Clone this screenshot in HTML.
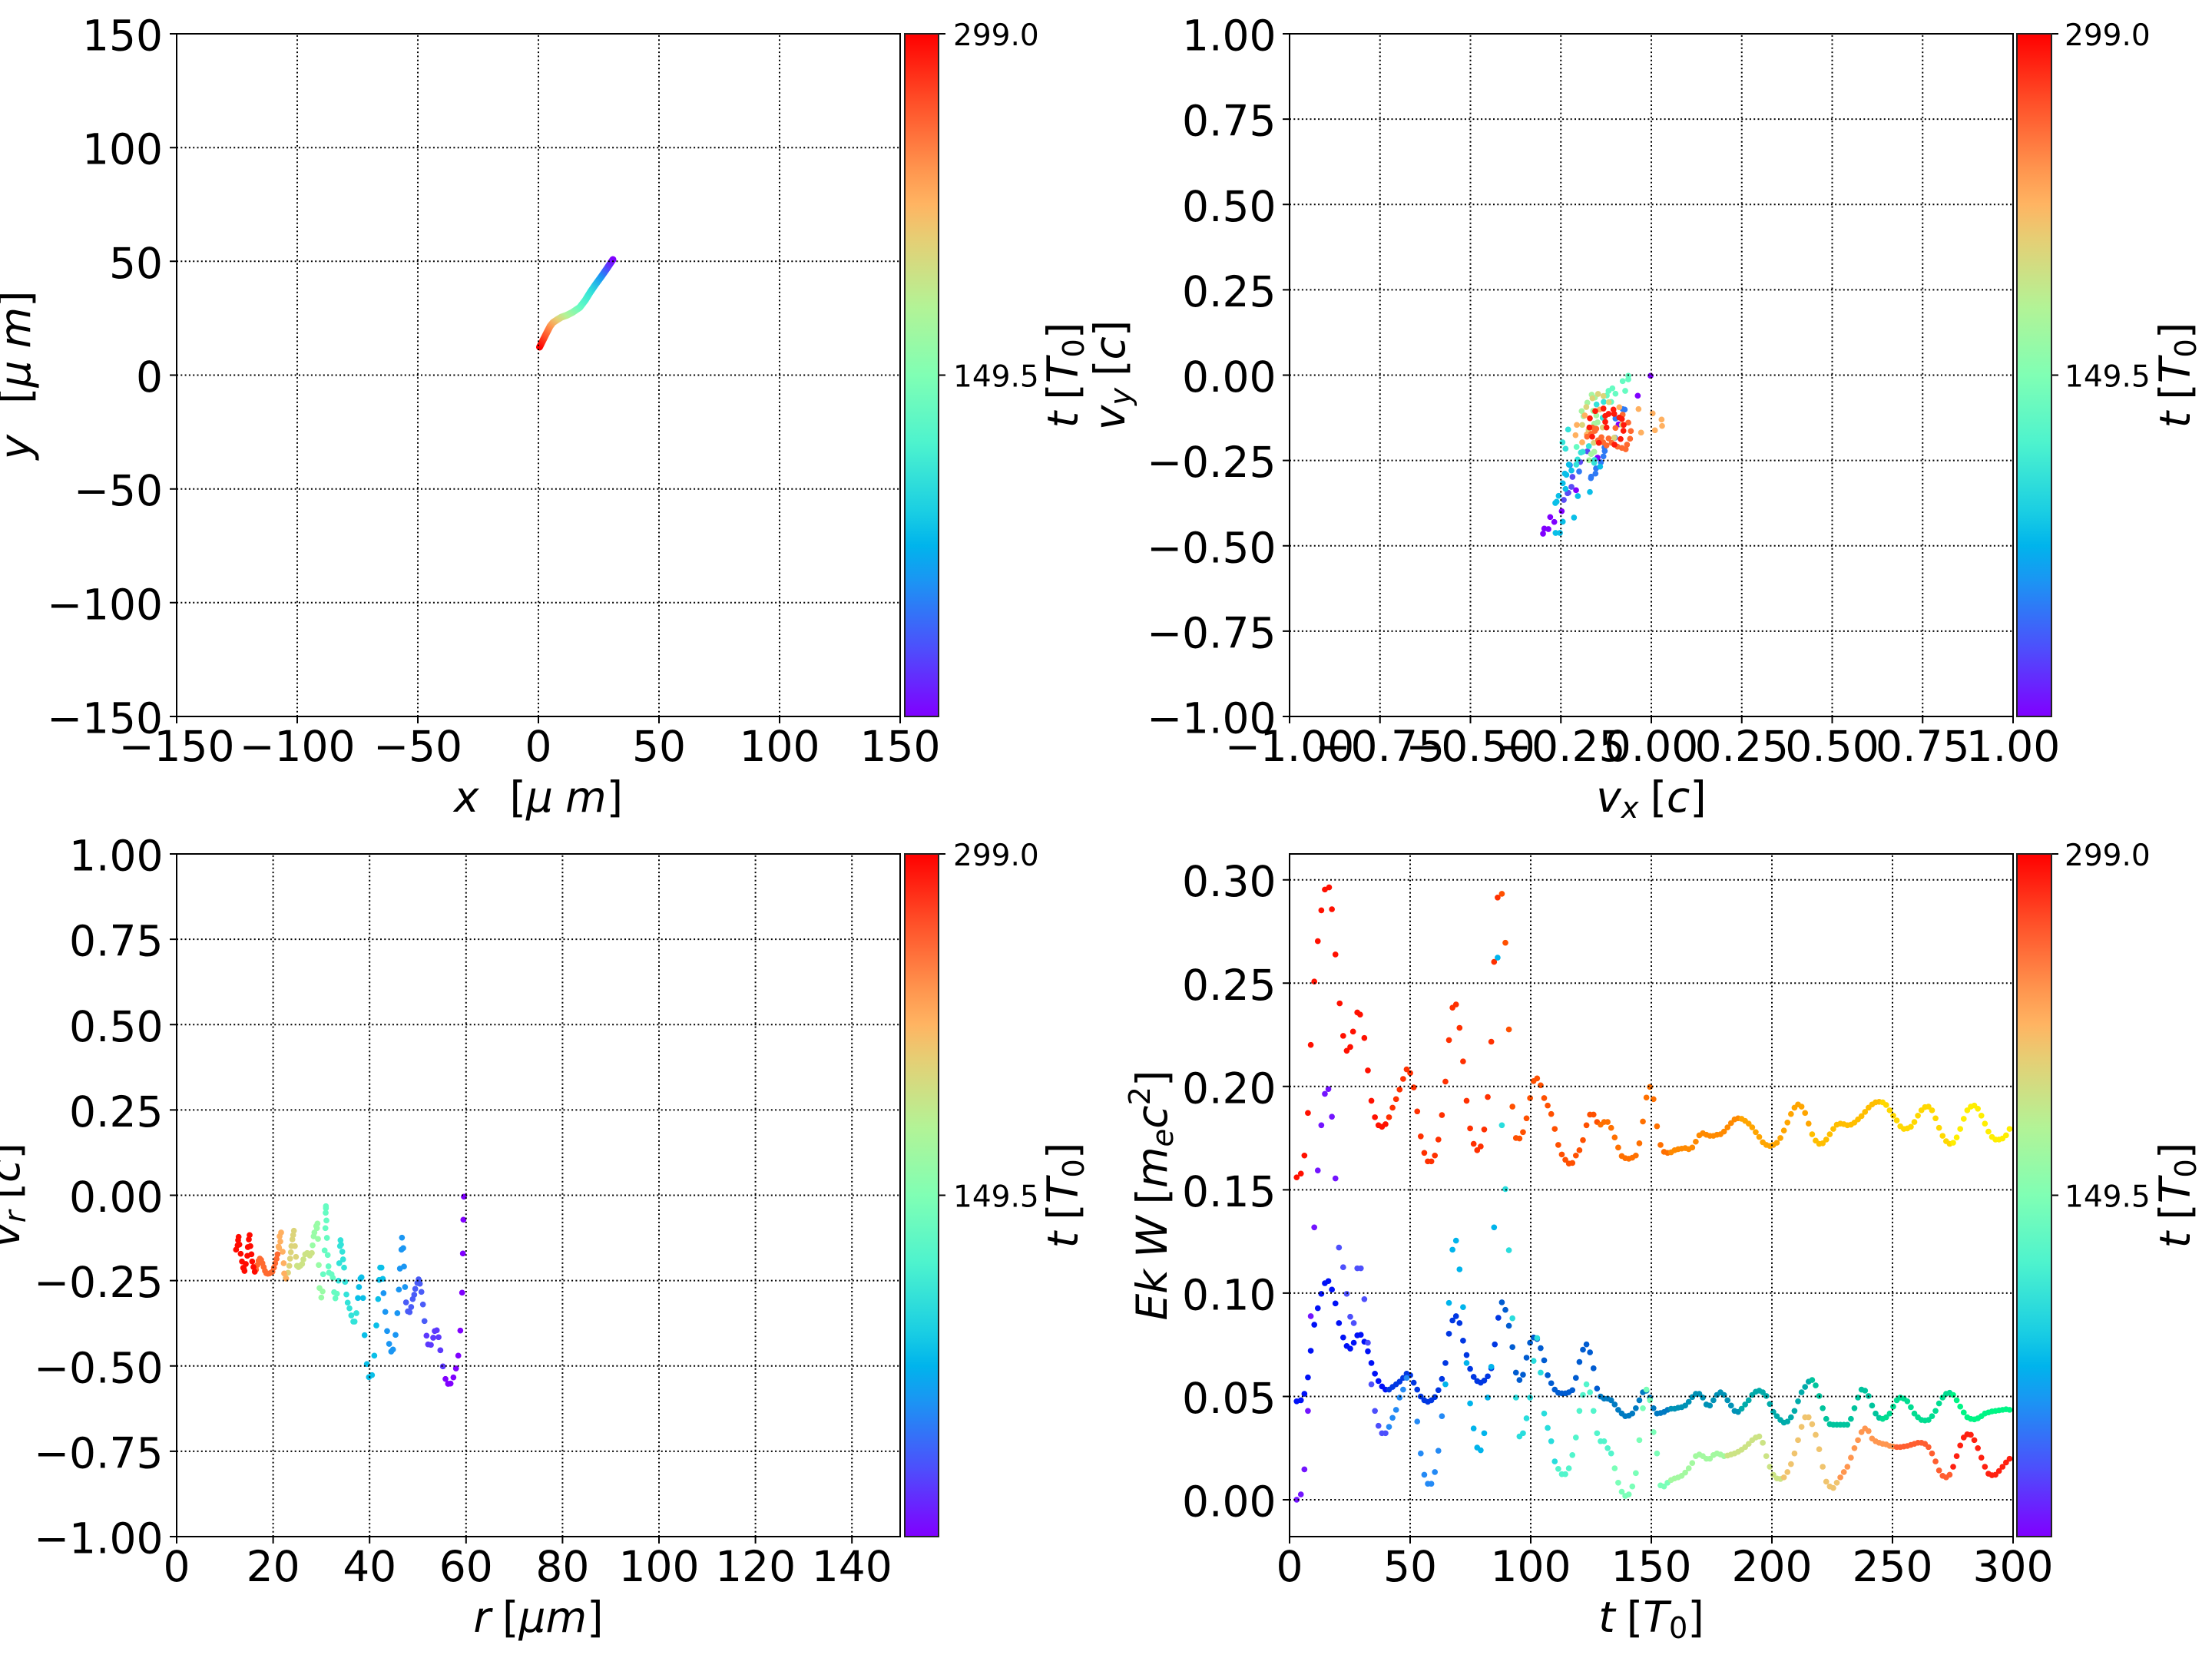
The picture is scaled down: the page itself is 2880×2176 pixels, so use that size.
<!DOCTYPE html>
<html>
<head>
<meta charset="utf-8">
<style>
html,body{margin:0;padding:0;background:#fff;overflow:hidden;}
svg{display:block;}
text{font-family:"DejaVu Sans","Liberation Sans",sans-serif;fill:#000;}
.t{font-size:55px;}
.c{font-size:39px;}
.i{font-style:italic;}
</style>
</head>
<body>
<svg width="2880" height="2176" viewBox="0 0 2880 2176" xmlns="http://www.w3.org/2000/svg">
<defs>
<linearGradient id="cb" x1="0" y1="1" x2="0" y2="0">
<stop offset="0" stop-color="#8000ff"/>
<stop offset="0.1" stop-color="#4d4ffc"/>
<stop offset="0.2" stop-color="#1a96f3"/>
<stop offset="0.25" stop-color="#00b4ec"/>
<stop offset="0.3" stop-color="#1acee3"/>
<stop offset="0.4" stop-color="#4df3ce"/>
<stop offset="0.5" stop-color="#80ffb4"/>
<stop offset="0.6" stop-color="#b3f396"/>
<stop offset="0.7" stop-color="#e6ce74"/>
<stop offset="0.75" stop-color="#ffb462"/>
<stop offset="0.8" stop-color="#ff964f"/>
<stop offset="0.9" stop-color="#ff4f28"/>
<stop offset="1" stop-color="#ff0000"/>
</linearGradient>
<linearGradient id="trj" gradientUnits="userSpaceOnUse" x1="702.5" y1="452" x2="798" y2="338">
<stop offset="0" stop-color="#ff0000"/>
<stop offset="0.1" stop-color="#ff4f28"/>
<stop offset="0.2" stop-color="#ff964f"/>
<stop offset="0.282" stop-color="#e6ce74"/>
<stop offset="0.363" stop-color="#b3f396"/>
<stop offset="0.492" stop-color="#66fcc2"/>
<stop offset="0.655" stop-color="#33e3d9"/>
<stop offset="0.815" stop-color="#1a96f3"/>
<stop offset="0.9" stop-color="#4d4ffc"/>
<stop offset="1" stop-color="#8000ff"/>
</linearGradient>
</defs>
<rect x="0" y="0" width="2880" height="2176" fill="#fff"/>

<!-- ===== TL data: trajectory ===== -->
<polyline points="702.5,452 708,441 712,433 716.3,424.7 720,420 725.4,416.4 731,413 737.4,410.8 745,407 754.8,400.4 762,391 768.6,380.3 775,371 782.4,360.9 790,350 798,338" fill="none" stroke="url(#trj)" stroke-width="9" stroke-linecap="round" stroke-linejoin="round"/>

<!-- ===== TR data ===== -->
<g transform="translate(1930 470) scale(0.33333)" fill="none" stroke-width="23" stroke-linecap="round">
<path stroke="#8000ff" d="M657 58h.1M607 136h.1M532 248h.1M450 378h.1M366 505h.1M310 587h.1M265 610h.1M281 629h.1M242 655h.1M258 657h.1M237 675h.1"/>
<path stroke="#5a4cf5" d="M382 395h.1M352 453h.1M348 492h.1M333 517h.1M318 543h.1M410 353h.1M336 515h.1"/>
<path stroke="#2f7af5" d="M478 352h.1M473 373h.1M463 396h.1M444 420h.1M442 440h.1M425 452h.1M424 458h.1M378 432h.1M342 407h.1M556 190h.1M548 188h.1M520 225h.1M518 300h.1M477 338h.1"/>
<path stroke="#0abfe8" d="M460 413h.1M420 512h.1M373 528h.1M358 612h.1M314 628h.1M303 672h.1M286 672h.1M298 527h.1M290 550h.1M285 555h.1M314 478h.1M325 500h.1M338 405h.1M322 440h.1M348 428h.1M328 445h.1"/>
<path stroke="#33e3d9" d="M367 405h.1M372 385h.1M385 358h.1M392 355h.1M437 398h.1M416 333h.1M313 318h.1M325 343h.1M446 170h.1M474 160h.1M470 222h.1M335 268h.1M438 387h.1"/>
<path stroke="#66fcc2" d="M368 336h.1M570 58h.1M570 72h.1M548 79h.1M558 117h.1M520 128h.1M508 107h.1M493 117h.1M486 135h.1M503 160h.1"/>
<path stroke="#a6f5a0" d="M425 364h.1M417 388h.1M427 132h.1M440 143h.1M410 163h.1M388 196h.1M395 216h.1M437 245h.1M450 240h.1M433 195h.1M445 213h.1M437 355h.1"/>
<path stroke="#dcd47a" d="M430 146h.1M452 129h.1M473 137h.1M494 161h.1M406 180h.1M390 250h.1M415 270h.1M435 320h.1M515 300h.1M470 260h.1M545 250h.1"/>
<path stroke="#ffb060" d="M364 290h.1M390 318h.1M369 250h.1M400 213h.1M610 188h.1M665 205h.1M700 229h.1M702 254h.1M674 271h.1M620 280h.1M535 181h.1M458 190h.1M408 287h.1"/>
<path stroke="#ff6a30" d="M409 296h.1M430 260h.1M440 273h.1M465 298h.1M493 303h.1M505 320h.1M528 335h.1M545 340h.1M560 345h.1M565 327h.1M577 304h.1M580 274h.1M570 241h.1M548 210h.1M520 262h.1M472 318h.1M485 330h.1M452 310h.1M425 285h.1M445 265h.1"/>
<path stroke="#ff1a0a" d="M441 196h.1M420 224h.1M480 215h.1M493 207h.1M512 190h.1M515 207h.1M535 221h.1M545 227h.1M480 238h.1M485 260h.1M552 250h.1M551 273h.1M540 305h.1M516 327h.1M455 320h.1M429 296h.1M473 186h.1M418 260h.1"/>
</g>

<!-- ===== BL data ===== -->
<g transform="translate(280 1540) scale(0.33333)" fill="none" stroke-width="23" stroke-linecap="round">
<path stroke="#8000ff" d="M900 767h.1M910 786h.1M920 785h.1M931 761h.1M941 726h.1M950 676h.1M958 578h.1M965 430h.1M968 277h.1M970 145h.1M972 55h.1"/>
<path stroke="#5c38fd" d="M826 598h.1M832 632h.1M843 634h.1M852 606h.1M858 580h.1M866 577h.1M873 604h.1M880 655h.1M890 718h.1"/>
<path stroke="#4a5cf8" d="M746 468h.1M753 503h.1M760 506h.1M766 486h.1M772 455h.1M778 438h.1M782 415h.1M790 392h.1M795 378h.1M800 395h.1M806 427h.1M812 476h.1M818 541h.1"/>
<path stroke="#1a96f3" d="M658 432h.1M665 505h.1M672 580h.1M680 630h.1M705 595h.1M688 660h.1M695 652h.1M712 510h.1M730 215h.1M728 262h.1M735 256h.1M722 336h.1M738 328h.1M742 408h.1M718 418h.1"/>
<path stroke="#0abfe8" d="M572 370h.1M568 375h.1M562 408h.1M558 451h.1M578 451h.1M584 596h.1M630 558h.1M593 709h.1M622 676h.1M601 760h.1M613 752h.1M645 332h.1M650 332h.1M641 380h.1M655 376h.1M637 455h.1"/>
<path stroke="#33e3d9" d="M490 225h.1M492 242h.1M488 248h.1M497 270h.1M500 300h.1M485 315h.1M504 332h.1M482 383h.1M508 388h.1M513 437h.1M518 469h.1M525 491h.1M532 519h.1M540 543h.1M545 543h.1M552 510h.1"/>
<path stroke="#66fcc2" d="M433 92h.1M433 100h.1M432 118h.1M435 148h.1M431 178h.1M437 216h.1M428 265h.1M440 283h.1M443 327h.1M422 358h.1M445 352h.1M455 358h.1M460 372h.1M465 428h.1M470 452h.1M476 434h.1"/>
<path stroke="#99fca6" d="M381 245h.1M385 210h.1M388 195h.1M395 170h.1M400 160h.1M398 178h.1M402 220h.1M405 322h.1M408 412h.1M420 425h.1M415 449h.1"/>
<path stroke="#cce385" d="M320 325h.1M326 330h.1M333 325h.1M340 318h.1M345 300h.1M352 280h.1M360 275h.1M370 285h.1M378 275h.1"/>
<path stroke="#dcd47a" d="M308 188h.1M305 205h.1M302 222h.1M298 248h.1M312 248h.1M296 272h.1M293 297h.1M290 325h.1M316 290h.1M285 352h.1M276 372h.1"/>
<path stroke="#ffb060" d="M250 255h.1M255 230h.1M258 195h.1M252 210h.1M264 270h.1M268 315h.1M270 355h.1M278 375h.1M248 250h.1"/>
<path stroke="#ff6a30" d="M160 340h.1M165 322h.1M170 305h.1M175 297h.1M180 302h.1M185 315h.1M190 330h.1M195 345h.1M200 354h.1M206 356h.1M212 355h.1M218 352h.1M224 348h.1M230 332h.1M235 315h.1M240 298h.1M244 280h.1"/>
<path stroke="#ff0a00" d="M92 212h.1M90 225h.1M88 245h.1M95 242h.1M82 262h.1M100 278h.1M105 308h.1M112 335h.1M115 345h.1M110 333h.1M120 318h.1M135 205h.1M132 222h.1M138 248h.1M128 252h.1M142 280h.1M126 286h.1M145 308h.1M150 330h.1M155 348h.1"/>
</g>

<!-- ===== BR data ===== -->
<g transform="matrix(0.91813 0 0 0.69275 1440.29 1089.1)" fill="none" stroke-width="7.6" stroke-linecap="round" vector-effect="non-scaling-stroke">
<!-- series 1 (autumn) -->
<path vector-effect="non-scaling-stroke" stroke="#ff1000" d="M270 641h.1M276 634h.1M281 600h.1M286 520h.1M290 392h.1M295 273h.1M300 197h.1M305 139h.1M310 100h.1M316 96h.1M320 137h.1M325 222h.1M331 314h.1M336 375h.1M341 403h.1M346 396h.1M350 367h.1M356 331h.1M360 335h.1M366 379h.1M371 440h.1M376 497h.1M381 528h.1M386 543h.1M391 546h.1M396 541h.1"/>
<path vector-effect="non-scaling-stroke" stroke="#ff3000" d="M401 528h.1M406 510h.1M411 494h.1M416 476h.1M421 456h.1M426 438h.1M431 445h.1M436 472h.1M441 517h.1M446 564h.1M451 595h.1M456 611h.1M461 611h.1M466 600h.1M471 570h.1M476 524h.1M481 461h.1M486 383h.1M491 322h.1M496 316h.1M501 360h.1M506 423h.1M511 497h.1M516 549h.1M521 578h.1M526 590h.1M531 583h.1M536 551h.1M541 490h.1M546 386h.1M550 236h.1M555 115h.1"/>
<path vector-effect="non-scaling-stroke" stroke="#ff5000" d="M561 108h.1M566 200h.1M571 363h.1M576 508h.1M581 567h.1M586 568h.1M591 556h.1M596 530h.1M601 492h.1M606 460h.1M611 455h.1M616 468h.1M621 492h.1M626 506h.1M631 522h.1M636 550h.1M641 580h.1M646 598h.1M651 608h.1M656 615h.1M661 614h.1M666 600h.1M671 590h.1M676 571h.1M681 543h.1M686 523h.1M691 523h.1M696 537h.1"/>
<path vector-effect="non-scaling-stroke" stroke="#ff7000" d="M701 542h.1M706 537h.1M711 537h.1M716 548h.1M721 566h.1M726 585h.1M731 601h.1M736 605h.1M741 606h.1M746 604h.1M751 600h.1M756 577h.1M761 536h.1M766 491h.1M771 471h.1M776 494h.1M781 545h.1M786 580h.1M791 593h.1M796 595h.1"/>
<path vector-effect="non-scaling-stroke" stroke="#ff8a00" d="M801 594h.1M806 590h.1M811 588h.1M816 587h.1M821 586h.1M826 588h.1M831 585h.1M836 574h.1M841 562h.1M846 558h.1M851 561h.1M856 563h.1M861 563h.1M866 561h.1M871 560h.1M876 555h.1M881 547h.1M886 539h.1M891 532h.1M896 530h.1"/>
<path vector-effect="non-scaling-stroke" stroke="#ffa500" d="M901 531h.1M906 535h.1M911 540h.1M916 547h.1M921 556h.1M926 565h.1M931 575h.1M936 580h.1M941 582h.1M946 580h.1M951 576h.1M956 567h.1M961 553h.1M966 538h.1M971 522h.1M976 510h.1M981 504h.1M986 508h.1M991 520h.1M996 540h.1"/>
<path vector-effect="non-scaling-stroke" stroke="#ffbe00" d="M1001 560h.1M1006 572h.1M1011 578h.1M1016 577h.1M1021 570h.1M1026 560h.1M1031 550h.1M1036 542h.1M1041 540h.1M1046 541h.1M1051 543h.1M1056 542h.1M1061 538h.1M1066 532h.1M1071 526h.1M1076 518h.1M1081 510h.1M1086 504h.1M1091 500h.1M1096 499h.1"/>
<path vector-effect="non-scaling-stroke" stroke="#ffd800" d="M1101 500h.1M1106 505h.1M1111 515h.1M1116 525h.1M1121 534h.1M1126 545h.1M1131 550h.1M1136 549h.1M1141 546h.1M1146 537h.1M1151 525h.1M1156 515h.1M1161 509h.1M1166 508h.1M1171 515h.1M1176 530h.1M1181 548h.1M1186 563h.1M1191 573h.1M1196 578h.1"/>
<path vector-effect="non-scaling-stroke" stroke="#ffee00" d="M1201 576h.1M1206 566h.1M1211 550h.1M1216 531h.1M1221 515h.1M1226 508h.1M1231 506h.1M1236 512h.1M1241 525h.1M1246 540h.1M1251 555h.1M1256 565h.1M1261 570h.1M1266 570h.1M1271 568h.1M1276 562h.1M1281 550h.1"/>
<!-- series 2 (winter) -->
<path vector-effect="non-scaling-stroke" stroke="#0011f7" d="M270 1062h.1M276 1060h.1M281 1048h.1M286 1017h.1M290 967h.1M295 918h.1M300 887h.1M305 860h.1M310 840h.1M315 836h.1M320 852h.1M325 878h.1M330 915h.1M336 942h.1M341 958h.1M346 963h.1M351 952h.1M356 938h.1M361 937h.1M366 950h.1M371 968h.1M376 990h.1M381 1010h.1M386 1024h.1M391 1034h.1M396 1040h.1"/>
<path vector-effect="non-scaling-stroke" stroke="#0037e3" d="M401 1040h.1M406 1035h.1M411 1030h.1M416 1025h.1M421 1018h.1M426 1010h.1M431 1013h.1M436 1027h.1M441 1040h.1M446 1053h.1M451 1060h.1M456 1063h.1M461 1060h.1M466 1054h.1M471 1041h.1M476 1020h.1M481 990h.1M486 935h.1M491 910h.1M496 902h.1M501 915h.1M506 948h.1M511 975h.1M516 1001h.1M521 1016h.1M526 1024h.1M531 1027h.1M536 1023h.1M541 1015h.1M546 1000h.1M551 955h.1M556 905h.1"/>
<path vector-effect="non-scaling-stroke" stroke="#005cd1" d="M561 876h.1M566 890h.1M571 920h.1M576 960h.1M581 1008h.1M586 1022h.1M591 1012h.1M596 980h.1M601 952h.1M606 942h.1M611 945h.1M616 962h.1M621 985h.1M626 1013h.1M631 1028h.1M636 1040h.1M641 1046h.1M646 1047h.1M651 1047h.1M656 1045h.1M661 1041h.1M666 1018h.1M671 988h.1M676 965h.1M681 955h.1M686 970h.1M691 1000h.1M696 1038h.1"/>
<path vector-effect="non-scaling-stroke" stroke="#007ac2" d="M701 1053h.1M706 1057h.1M711 1057h.1M716 1060h.1M721 1068h.1M726 1078h.1M731 1085h.1M736 1090h.1M741 1089h.1M746 1085h.1M751 1075h.1M756 1060h.1M761 1045h.1M766 1042h.1M771 1055h.1M776 1075h.1M781 1085h.1M786 1084h.1M791 1082h.1M796 1078h.1"/>
<path vector-effect="non-scaling-stroke" stroke="#0092b6" d="M801 1076h.1M806 1076h.1M811 1074h.1M816 1073h.1M821 1070h.1M826 1063h.1M831 1054h.1M836 1048h.1M841 1048h.1M846 1055h.1M851 1068h.1M856 1070h.1M861 1060h.1M866 1050h.1M871 1045h.1M876 1050h.1M881 1060h.1M886 1070h.1M891 1080h.1M896 1082h.1"/>
<path vector-effect="non-scaling-stroke" stroke="#00abaa" d="M901 1076h.1M906 1068h.1M911 1060h.1M916 1050h.1M921 1044h.1M926 1042h.1M931 1045h.1M936 1052h.1M941 1067h.1M946 1082h.1M951 1090h.1M956 1097h.1M961 1102h.1M966 1100h.1M971 1092h.1M976 1080h.1M981 1062h.1M986 1045h.1M991 1035h.1M996 1025h.1"/>
<path vector-effect="non-scaling-stroke" stroke="#00c49d" d="M1001 1022h.1M1006 1032h.1M1011 1052h.1M1016 1075h.1M1021 1095h.1M1026 1105h.1M1031 1106h.1M1036 1106h.1M1041 1106h.1M1046 1106h.1M1051 1106h.1M1056 1095h.1M1061 1075h.1M1066 1055h.1M1071 1040h.1M1076 1042h.1M1081 1052h.1M1086 1070h.1M1091 1085h.1M1096 1093h.1"/>
<path vector-effect="non-scaling-stroke" stroke="#00dd91" d="M1101 1095h.1M1106 1092h.1M1111 1085h.1M1116 1072h.1M1121 1060h.1M1126 1055h.1M1131 1057h.1M1136 1062h.1M1141 1073h.1M1146 1085h.1M1151 1092h.1M1156 1097h.1M1161 1098h.1M1166 1097h.1M1171 1090h.1M1176 1080h.1M1181 1066h.1M1186 1055h.1M1191 1048h.1M1196 1046h.1"/>
<path vector-effect="non-scaling-stroke" stroke="#00f585" d="M1201 1050h.1M1206 1060h.1M1211 1072h.1M1216 1083h.1M1221 1092h.1M1226 1095h.1M1231 1096h.1M1236 1094h.1M1241 1090h.1M1246 1085h.1M1251 1083h.1M1256 1081h.1M1261 1080h.1M1266 1079h.1M1271 1078h.1M1276 1077h.1M1281 1078h.1"/>
<!-- series 3 (rainbow) -->
<path vector-effect="non-scaling-stroke" stroke="#7314ff" d="M270 1247h.1M276 1237h.1M281 1190h.1M286 1080h.1M290 902h.1M295 735h.1M300 628h.1M305 543h.1M310 484h.1M315 475h.1M320 527h.1M325 643h.1"/>
<path vector-effect="non-scaling-stroke" stroke="#4d4ffc" d="M330 773h.1M336 810h.1M341 860h.1M346 903h.1M351 915h.1M356 812h.1M361 812h.1M366 870h.1M371 952h.1M376 1030h.1M381 1080h.1M386 1108h.1M391 1122h.1M396 1122h.1"/>
<path vector-effect="non-scaling-stroke" stroke="#248af5" d="M401 1110h.1M406 1093h.1M411 1078h.1M416 1055h.1M421 1040h.1M426 1018h.1M441 1100h.1M446 1160h.1M451 1200h.1M456 1217h.1M461 1217h.1M466 1195h.1M471 1155h.1M476 1090h.1"/>
<path vector-effect="non-scaling-stroke" stroke="#00b4ec" d="M481 1030h.1M486 877h.1M491 777h.1M496 760h.1M501 814h.1M506 885h.1M511 990h.1M516 1066h.1M521 1113h.1M526 1149h.1M531 1154h.1M536 1122h.1M541 1055h.1M546 997h.1M550 735h.1M555 228h.1"/>
<path vector-effect="non-scaling-stroke" stroke="#29dddd" d="M561 543h.1M566 663h.1M571 778h.1M576 906h.1M581 1055h.1M586 1128h.1M591 1122h.1M596 1094h.1M601 1055h.1M606 986h.1M611 943h.1M616 1008h.1M621 1085h.1M626 1112h.1M631 1137h.1M636 1175h.1"/>
<path vector-effect="non-scaling-stroke" stroke="#52f5cc" d="M641 1189h.1M646 1199h.1M651 1199h.1M656 1188h.1M661 1163h.1M666 1130h.1M671 1080h.1M676 1050h.1M681 1030h.1M686 1045h.1M691 1080h.1M696 1122h.1M701 1137h.1M706 1137h.1M711 1150h.1M716 1160h.1"/>
<path vector-effect="non-scaling-stroke" stroke="#7affb8" d="M721 1188h.1M726 1215h.1M731 1232h.1M736 1240h.1M741 1237h.1M746 1222h.1M751 1197h.1M756 1135h.1M761 1075h.1M766 1040h.1M771 1060h.1M776 1120h.1M781 1160h.1M786 1220h.1M791 1222h.1M796 1215h.1"/>
<path vector-effect="non-scaling-stroke" stroke="#a3f9a0" d="M801 1210h.1M806 1207h.1M811 1205h.1M816 1202h.1M821 1196h.1M826 1188h.1M831 1178h.1M836 1165h.1M841 1162h.1M846 1165h.1M851 1170h.1M856 1170h.1M861 1163h.1M866 1160h.1M871 1162h.1M876 1165h.1"/>
<path vector-effect="non-scaling-stroke" stroke="#cce385" d="M881 1164h.1M886 1162h.1M891 1160h.1M896 1157h.1M901 1153h.1M906 1148h.1M911 1142h.1M916 1135h.1M921 1130h.1M926 1128h.1M931 1140h.1M936 1165h.1M941 1185h.1M946 1200h.1M951 1207h.1M956 1208h.1"/>
<path vector-effect="non-scaling-stroke" stroke="#f0c46e" d="M961 1205h.1M966 1195h.1M971 1180h.1M976 1160h.1M981 1135h.1M986 1110h.1M991 1092h.1M996 1092h.1M1001 1105h.1M1006 1125h.1M1011 1152h.1M1016 1185h.1M1021 1213h.1M1026 1222h.1M1031 1225h.1M1036 1215h.1"/>
<path vector-effect="non-scaling-stroke" stroke="#ff964f" d="M1041 1205h.1M1046 1195h.1M1051 1185h.1M1056 1168h.1M1061 1150h.1M1066 1135h.1M1071 1120h.1M1076 1113h.1M1081 1118h.1M1086 1132h.1M1091 1137h.1M1096 1140h.1M1101 1142h.1M1106 1143h.1M1111 1146h.1M1116 1147h.1"/>
<path vector-effect="non-scaling-stroke" stroke="#ff5e30" d="M1121 1148h.1M1126 1148h.1M1131 1147h.1M1136 1146h.1M1141 1144h.1M1146 1142h.1M1151 1140h.1M1156 1140h.1M1161 1142h.1M1166 1148h.1M1171 1160h.1M1176 1175h.1M1181 1192h.1M1186 1202h.1M1191 1205h.1M1196 1200h.1"/>
<path vector-effect="non-scaling-stroke" stroke="#ff2010" d="M1201 1185h.1M1206 1165h.1M1211 1145h.1M1216 1130h.1M1221 1124h.1M1226 1125h.1M1231 1135h.1M1236 1150h.1M1241 1168h.1M1246 1185h.1M1251 1198h.1M1256 1201h.1M1261 1200h.1M1266 1193h.1M1271 1185h.1M1276 1177h.1M1281 1170h.1"/>
</g>

<!-- ===== grids ===== -->
<g fill="none" stroke="#000" stroke-width="2" stroke-dasharray="2 3.3">
<path d="M387 933V44M544 933V44M701 933V44M858 933V44M1015 933V44M230 192.2H1172M230 340.3H1172M230 488.5H1172M230 636.7H1172M230 784.8H1172"/>
<path d="M1796.75 933V44M1914.5 933V44M2032.25 933V44M2150 933V44M2267.75 933V44M2385.5 933V44M2503.25 933V44M1679 155.1H2621M1679 266.25H2621M1679 377.4H2621M1679 488.5H2621M1679 599.6H2621M1679 710.75H2621M1679 821.9H2621"/>
<path d="M355.6 2001V1112M481.2 2001V1112M606.8 2001V1112M732.4 2001V1112M858 2001V1112M983.6 2001V1112M1109.2 2001V1112M230 1223.1H1172M230 1334.25H1172M230 1445.4H1172M230 1556.5H1172M230 1667.6H1172M230 1778.75H1172M230 1889.9H1172"/>
<path d="M1836 2001V1112M1993 2001V1112M2150 2001V1112M2307 2001V1112M2464 2001V1112M1679 1953H2621M1679 1818.5H2621M1679 1683.9H2621M1679 1549.4H2621M1679 1414.8H2621M1679 1280.3H2621M1679 1145.7H2621"/>
</g>

<!-- ===== spines & ticks ===== -->
<g fill="none" stroke="#000" stroke-width="2">
<rect x="230" y="44" width="942" height="889"/>
<rect x="1679" y="44" width="942" height="889"/>
<rect x="230" y="1112" width="942" height="889"/>
<rect x="1679" y="1112" width="942" height="889"/>
<path d="M230 933v9M387 933v9M544 933v9M701 933v9M858 933v9M1015 933v9M1172 933v9M230 44h-9M230 192.2h-9M230 340.3h-9M230 488.5h-9M230 636.7h-9M230 784.8h-9M230 933h-9"/>
<path d="M1679 933v9M1796.75 933v9M1914.5 933v9M2032.25 933v9M2150 933v9M2267.75 933v9M2385.5 933v9M2503.25 933v9M2621 933v9M1679 44h-9M1679 155.1h-9M1679 266.25h-9M1679 377.4h-9M1679 488.5h-9M1679 599.6h-9M1679 710.75h-9M1679 821.9h-9M1679 933h-9"/>
<path d="M230 2001v9M355.6 2001v9M481.2 2001v9M606.8 2001v9M732.4 2001v9M858 2001v9M983.6 2001v9M1109.2 2001v9M230 1112h-9M230 1223.1h-9M230 1334.25h-9M230 1445.4h-9M230 1556.5h-9M230 1667.6h-9M230 1778.75h-9M230 1889.9h-9M230 2001h-9"/>
<path d="M1679 2001v9M1836 2001v9M1993 2001v9M2150 2001v9M2307 2001v9M2464 2001v9M2621 2001v9M1679 1953h-9M1679 1818.5h-9M1679 1683.9h-9M1679 1549.4h-9M1679 1414.8h-9M1679 1280.3h-9M1679 1145.7h-9"/>
<path d="M1222 44h9M1222 488.5h9M2671 44h9M2671 488.5h9M1222 1112h9M1222 1556.5h9M2671 1112h9M2671 1556.5h9"/>
</g>

<!-- ===== colorbars ===== -->
<g stroke="#222" stroke-width="2" fill="url(#cb)">
<rect x="1178" y="44" width="44" height="889"/>
<rect x="2626" y="44" width="45" height="889"/>
<rect x="1178" y="1112" width="44" height="889"/>
<rect x="2626" y="1112" width="45" height="889"/>
</g>

<!-- ===== tick labels ===== -->
<g class="t" text-anchor="middle">
<text x="230" y="991">−150</text><text x="387" y="991">−100</text><text x="544" y="991">−50</text><text x="701" y="991">0</text><text x="858" y="991">50</text><text x="1015" y="991">100</text><text x="1172" y="991">150</text>
<text x="1679" y="991">−1.00</text><text x="1796.75" y="991">−0.75</text><text x="1914.5" y="991">−0.50</text><text x="2032.25" y="991">−0.25</text><text x="2150" y="991">0.00</text><text x="2267.75" y="991">0.25</text><text x="2385.5" y="991">0.50</text><text x="2503.25" y="991">0.75</text><text x="2621" y="991">1.00</text>
<text x="230" y="2059">0</text><text x="355.6" y="2059">20</text><text x="481.2" y="2059">40</text><text x="606.8" y="2059">60</text><text x="732.4" y="2059">80</text><text x="858" y="2059">100</text><text x="983.6" y="2059">120</text><text x="1109.2" y="2059">140</text>
<text x="1679" y="2059">0</text><text x="1836" y="2059">50</text><text x="1993" y="2059">100</text><text x="2150" y="2059">150</text><text x="2307" y="2059">200</text><text x="2464" y="2059">250</text><text x="2621" y="2059">300</text>
</g>
<g class="t" text-anchor="end">
<text x="212" y="65.5">150</text><text x="212" y="213.7">100</text><text x="212" y="361.8">50</text><text x="212" y="510">0</text><text x="212" y="658.2">−50</text><text x="212" y="806.3">−100</text><text x="212" y="954.5">−150</text>
<text x="1661.5" y="65.5">1.00</text><text x="1661.5" y="176.6">0.75</text><text x="1661.5" y="287.75">0.50</text><text x="1661.5" y="398.9">0.25</text><text x="1661.5" y="510">0.00</text><text x="1661.5" y="621.1">−0.25</text><text x="1661.5" y="732.25">−0.50</text><text x="1661.5" y="843.4">−0.75</text><text x="1661.5" y="954.5">−1.00</text>
<text x="212.5" y="1133.5">1.00</text><text x="212.5" y="1244.6">0.75</text><text x="212.5" y="1355.75">0.50</text><text x="212.5" y="1466.9">0.25</text><text x="212.5" y="1578">0.00</text><text x="212.5" y="1689.1">−0.25</text><text x="212.5" y="1800.25">−0.50</text><text x="212.5" y="1911.4">−0.75</text><text x="212.5" y="2022.5">−1.00</text>
<text x="1661.5" y="1974.5">0.00</text><text x="1661.5" y="1840">0.05</text><text x="1661.5" y="1705.4">0.10</text><text x="1661.5" y="1570.9">0.15</text><text x="1661.5" y="1436.3">0.20</text><text x="1661.5" y="1301.8">0.25</text><text x="1661.5" y="1167.2">0.30</text>
</g>
<g class="c">
<text x="1241" y="59">299.0</text><text x="1241" y="503.5">149.5</text>
<text x="2688" y="59">299.0</text><text x="2688" y="503.5">149.5</text>
<text x="1241" y="1127">299.0</text><text x="1241" y="1571.5">149.5</text>
<text x="2688" y="1127">299.0</text><text x="2688" y="1571.5">149.5</text>
</g>

<!-- ===== axis labels ===== -->
<g class="t" text-anchor="middle">
<text x="701" y="1057"><tspan class="i">x</tspan><tspan dx="40">[</tspan><tspan class="i">μ</tspan><tspan class="i" dx="16">m</tspan><tspan>]</tspan></text>
<text transform="translate(39 488.5) rotate(-90)"><tspan class="i">y</tspan><tspan dx="40">[</tspan><tspan class="i">μ</tspan><tspan class="i" dx="16">m</tspan><tspan>]</tspan></text>

<text x="2150" y="1057"><tspan class="i">v</tspan><tspan class="i" font-size="38.5" dy="8">x</tspan><tspan dy="-8" dx="15">[</tspan><tspan class="i">c</tspan><tspan>]</tspan></text>
<text transform="translate(1464 488.5) rotate(-90)"><tspan class="i">v</tspan><tspan class="i" font-size="38.5" dy="8">y</tspan><tspan dy="-8" dx="15">[</tspan><tspan class="i">c</tspan><tspan>]</tspan></text>

<text x="701" y="2125"><tspan class="i">r</tspan><tspan dx="15">[</tspan><tspan class="i">μm</tspan><tspan>]</tspan></text>
<text transform="translate(25 1556.5) rotate(-90)"><tspan class="i">v</tspan><tspan class="i" font-size="38.5" dy="8">r</tspan><tspan dy="-8" dx="15">[</tspan><tspan class="i">c</tspan><tspan>]</tspan></text>

<text x="2150" y="2125"><tspan class="i">t</tspan><tspan dx="15">[</tspan><tspan class="i">T</tspan><tspan font-size="38.5" dy="8">0</tspan><tspan dy="-8">]</tspan></text>
<text transform="translate(1519 1556.5) rotate(-90)"><tspan class="i">Ek</tspan><tspan class="i" dx="15">W</tspan><tspan dx="15">[</tspan><tspan class="i">m</tspan><tspan class="i" font-size="38.5" dy="8">e</tspan><tspan class="i" dy="-8">c</tspan><tspan font-size="38.5" dy="-22">2</tspan><tspan dy="22">]</tspan></text>

<text transform="translate(1403 488.5) rotate(-90)"><tspan class="i">t</tspan><tspan dx="15">[</tspan><tspan class="i">T</tspan><tspan font-size="38.5" dy="8">0</tspan><tspan dy="-8">]</tspan></text>
<text transform="translate(2851 488.5) rotate(-90)"><tspan class="i">t</tspan><tspan dx="15">[</tspan><tspan class="i">T</tspan><tspan font-size="38.5" dy="8">0</tspan><tspan dy="-8">]</tspan></text>
<text transform="translate(1403 1556.5) rotate(-90)"><tspan class="i">t</tspan><tspan dx="15">[</tspan><tspan class="i">T</tspan><tspan font-size="38.5" dy="8">0</tspan><tspan dy="-8">]</tspan></text>
<text transform="translate(2851 1556.5) rotate(-90)"><tspan class="i">t</tspan><tspan dx="15">[</tspan><tspan class="i">T</tspan><tspan font-size="38.5" dy="8">0</tspan><tspan dy="-8">]</tspan></text>
</g>
</svg>
</body>
</html>
